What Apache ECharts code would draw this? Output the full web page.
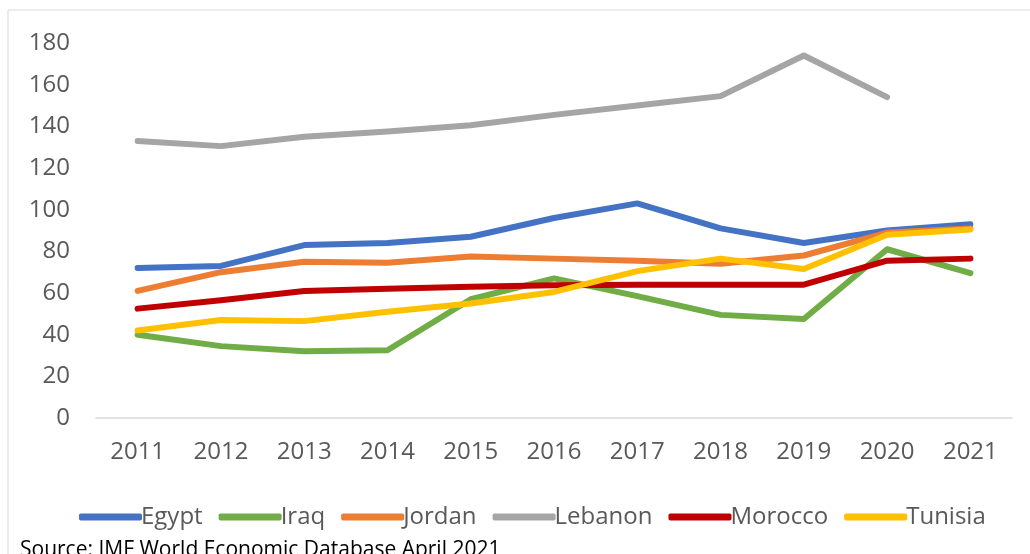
<!DOCTYPE html>
<html><head><meta charset="utf-8">
<script src="https://cdn.jsdelivr.net/npm/echarts@6/dist/echarts.min.js"></script>
<style>html,body{margin:0;padding:0;background:#fff}#c{width:1030px;height:554px}</style>
</head><body><div id="c"></div>
<script>
var years = ['2011','2012','2013','2014','2015','2016','2017','2018','2019','2020','2021'];
var egypt   = [72, 73, 83, 84, 87, 96, 103, 91, 84, 90, 93];
var iraq    = [40, 34.5, 32, 32.5, 57, 67, 58.5, 49.5, 47.5, 81, 69.5];
var jordan  = [61, 70, 75, 74.5, 77.5, 76.5, 75.5, 74, 78, 89, 91];
var lebanon = [133, 130.5, 135, 137.5, 140.5, 145.5, 150, 154.5, 174, 154, null];
var morocco = [52.5, 56.5, 61, 62, 63, 63.7, 64, 64, 64, 75.5, 76.5];
var tunisia = [42, 47, 46.5, 51, 55, 60.5, 70.5, 76.5, 71.5, 88, 90.5];
var yTicks = [0, 20, 40, 60, 80, 100, 120, 140, 160, 180];
var names = ['Egypt','Iraq','Jordan','Lebanon','Morocco','Tunisia'];
var colors = ['#4472C4','#70AD47','#ED7D31','#A5A5A5','#C00000','#FFC000'];
var values = [egypt, iraq, jordan, lebanon, morocco, tunisia];
var font = 'Open Sans';
var chart = echarts.init(document.getElementById('c'));
chart.setOption({
  animation: false,
  color: colors,
  grid: {left: 96, right: 18, top: 43, bottom: 136},
  xAxis: {
    type: 'category', data: years, boundaryGap: true,
    axisLine: {lineStyle: {color: '#d9d9d9', width: 1.5}},
    axisTick: {show: false},
    axisLabel: {color: '#595959', fontSize: 24, fontFamily: font, margin: 22}
  },
  yAxis: {
    type: 'value', min: yTicks[0], max: yTicks[yTicks.length-1], interval: 20,
    axisLine: {show: false}, axisTick: {show: false}, splitLine: {show: false},
    axisLabel: {color: '#595959', fontSize: 24, fontFamily: font, margin: 26}
  },
  legend: {
    data: names, left: 74, top: 500, icon: 'roundRect', itemWidth: 63, itemHeight: 7,
    itemGap: 16,
    textStyle: {color: '#595959', fontSize: 24, fontFamily: font, padding: [0,0,0,-6]}
  },
  graphic: [
    {type: 'rect', shape: {x: 8, y: 10, width: 1100, height: 600}, style: {fill: 'none', stroke: '#d9d9d9', lineWidth: 1}, silent: true, z: -1},
    {type: 'text', left: 20, top: 540, style: {text: 'Source: IMF World Economic Database April 2021', fill: '#000', fontSize: 21, fontFamily: font}}
  ],
  series: names.map(function(n, i){
    return {
      name: n, type: 'line', data: values[i], showSymbol: false, symbol: 'none',
      lineStyle: {width: 6, cap: 'round', join: 'round', color: colors[i]},
      itemStyle: {color: colors[i]}
    };
  })
});
</script></body></html>
